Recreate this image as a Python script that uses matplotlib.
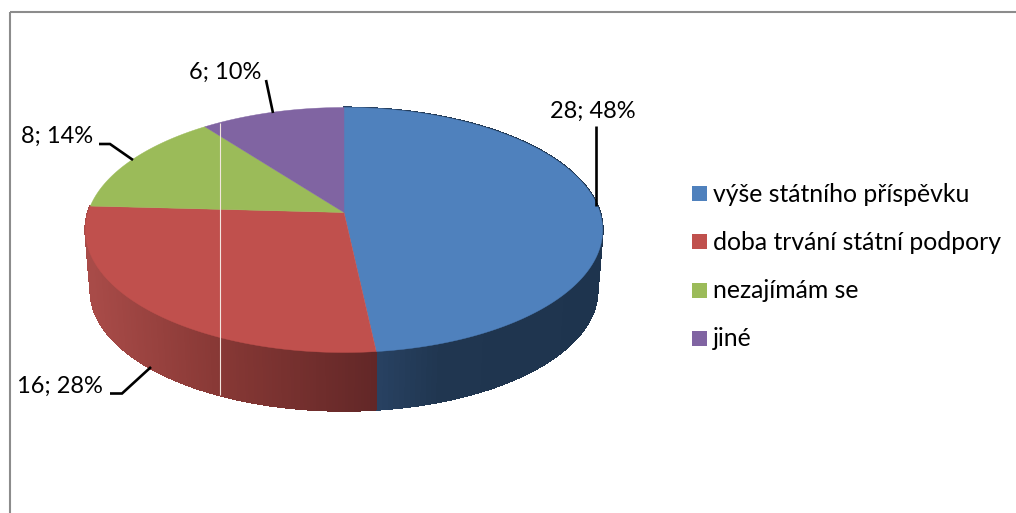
import numpy as np
import matplotlib
matplotlib.use("Agg")
import matplotlib.pyplot as plt
from matplotlib.patches import Polygon, Rectangle

# ----------------------------
# Data
# ----------------------------
categories = ["výše státního příspěvku", "doba trvání státní podpory", "nezajímám se", "jiné"]
values = [28, 16, 8, 6]
percents = [48, 28, 14, 10]

# ----------------------------
# Style
# ----------------------------
COLORS = ["#4f81bd", "#c0504d", "#9bbb59", "#8064a2"]
FONT = "Lato"
LABEL_SIZE = 17
LEGEND_SIZE = 17.8

# pie geometry in pixels, the tilt gives the perspective of the 3D pie
CENTER_X = 344
TOP_Y = 212.5
BOTTOM_Y = 273.5
BOTTOM_SCALE = 0.98
RX = 256
RY = 120
TILT = 1 / 7

# wall shading: x position -> rgb
RED_WALL = ([90, 219, 376], [(168, 75, 72), (135, 56, 53), (98, 39, 39)])
BLUE_WALL = ([376, 440, 603], [(40, 66, 98), (32, 54, 80), (30, 52, 78)])


def rim(theta, center_y, scale=1.0):
    """Point of the rim, theta in radians clockwise from the top."""
    x, y = np.sin(theta), np.cos(theta)
    d = 1 + TILT * y
    return CENTER_X + scale * RX * x / d, center_y - scale * RY * y / d


def wall_color(x, shading):
    xs, rgb = shading
    rgb = np.array(rgb) / 255
    return [np.interp(x, xs, rgb[:, i]) for i in range(3)]


fig = plt.figure(figsize=(10.16, 5.13), dpi=100)
ax = fig.add_axes([0, 0, 1, 1])
ax.set_xlim(0, 1016)
ax.set_ylim(513, 0)
ax.axis("off")

# chart frame, runs off the picture on the right and at the bottom
ax.add_patch(Rectangle((10, 12), 1100, 600, fill=False, edgecolor="#8c8c8c", linewidth=1.5))

# ----------------------------
# Pie
# ----------------------------
edges = np.concatenate([[0], np.cumsum(values)]) / sum(values) * 2 * np.pi

# side walls first, only blue and red can be seen
for start, end, shading in [(edges[0], edges[1], BLUE_WALL), (edges[1], edges[2], RED_WALL)]:
    steps = np.linspace(start, end, 160)
    for a, b in zip(steps[:-1], steps[1:]):
        x1, y1 = rim(a, TOP_Y)
        x2, y2 = rim(b, TOP_Y)
        x3, y3 = rim(b, BOTTOM_Y, BOTTOM_SCALE)
        x4, y4 = rim(a, BOTTOM_Y, BOTTOM_SCALE)
        c = wall_color((x1 + x2) / 2, shading)
        ax.add_patch(Polygon([(x1, y1), (x2, y2), (x3, y3), (x4, y4)], closed=True,
                             facecolor=c, edgecolor=c, linewidth=0.8, antialiased=False))

# top of the pie
for i, color in enumerate(COLORS):
    t = np.linspace(edges[i], edges[i + 1], 200)
    xs, ys = rim(t, TOP_Y)
    pts = np.column_stack([np.r_[CENTER_X, xs], np.r_[TOP_Y, ys]])
    ax.add_patch(Polygon(pts, closed=True, facecolor=color, edgecolor=color, linewidth=0.3))

# thin pale line that crosses the pie in the original
ax.plot([219.5, 219.5], [123, 395], color="#f3e6df", linewidth=0.8, solid_capstyle="butt")

# ----------------------------
# Data labels, same order as the values
# ----------------------------
label_pos = [(593, 111), (60, 386), (57.5, 136), (225.5, 72)]
leaders = [
    [(596.3, 126), (596.3, 206)],
    [(110, 393.5), (122, 393.5), (151, 367)],
    [(99, 144), (110, 144), (133, 160)],
    [(266, 80), (273, 113)],
]
for val, pct, (tx, ty), line in zip(values, percents, label_pos, leaders):
    ax.text(tx, ty, f"{val}; {pct}%", ha="center", va="center",
            family=FONT, fontsize=LABEL_SIZE, color="black")
    lx, ly = zip(*line)
    ax.plot(lx, ly, color="black", linewidth=1.9, solid_capstyle="butt", solid_joinstyle="miter")

# ----------------------------
# Legend
# ----------------------------
legend_y = [193, 241, 290, 338]
for name, color, y in zip(categories, COLORS, legend_y):
    ax.add_patch(Rectangle((692, y - 7.5), 15, 15, facecolor=color, edgecolor="none"))
    ax.text(713, y + 1, name, ha="left", va="center",
            family=FONT, fontsize=LEGEND_SIZE, color="black")

fig.savefig("out.png", dpi=100)
plt.close(fig)
